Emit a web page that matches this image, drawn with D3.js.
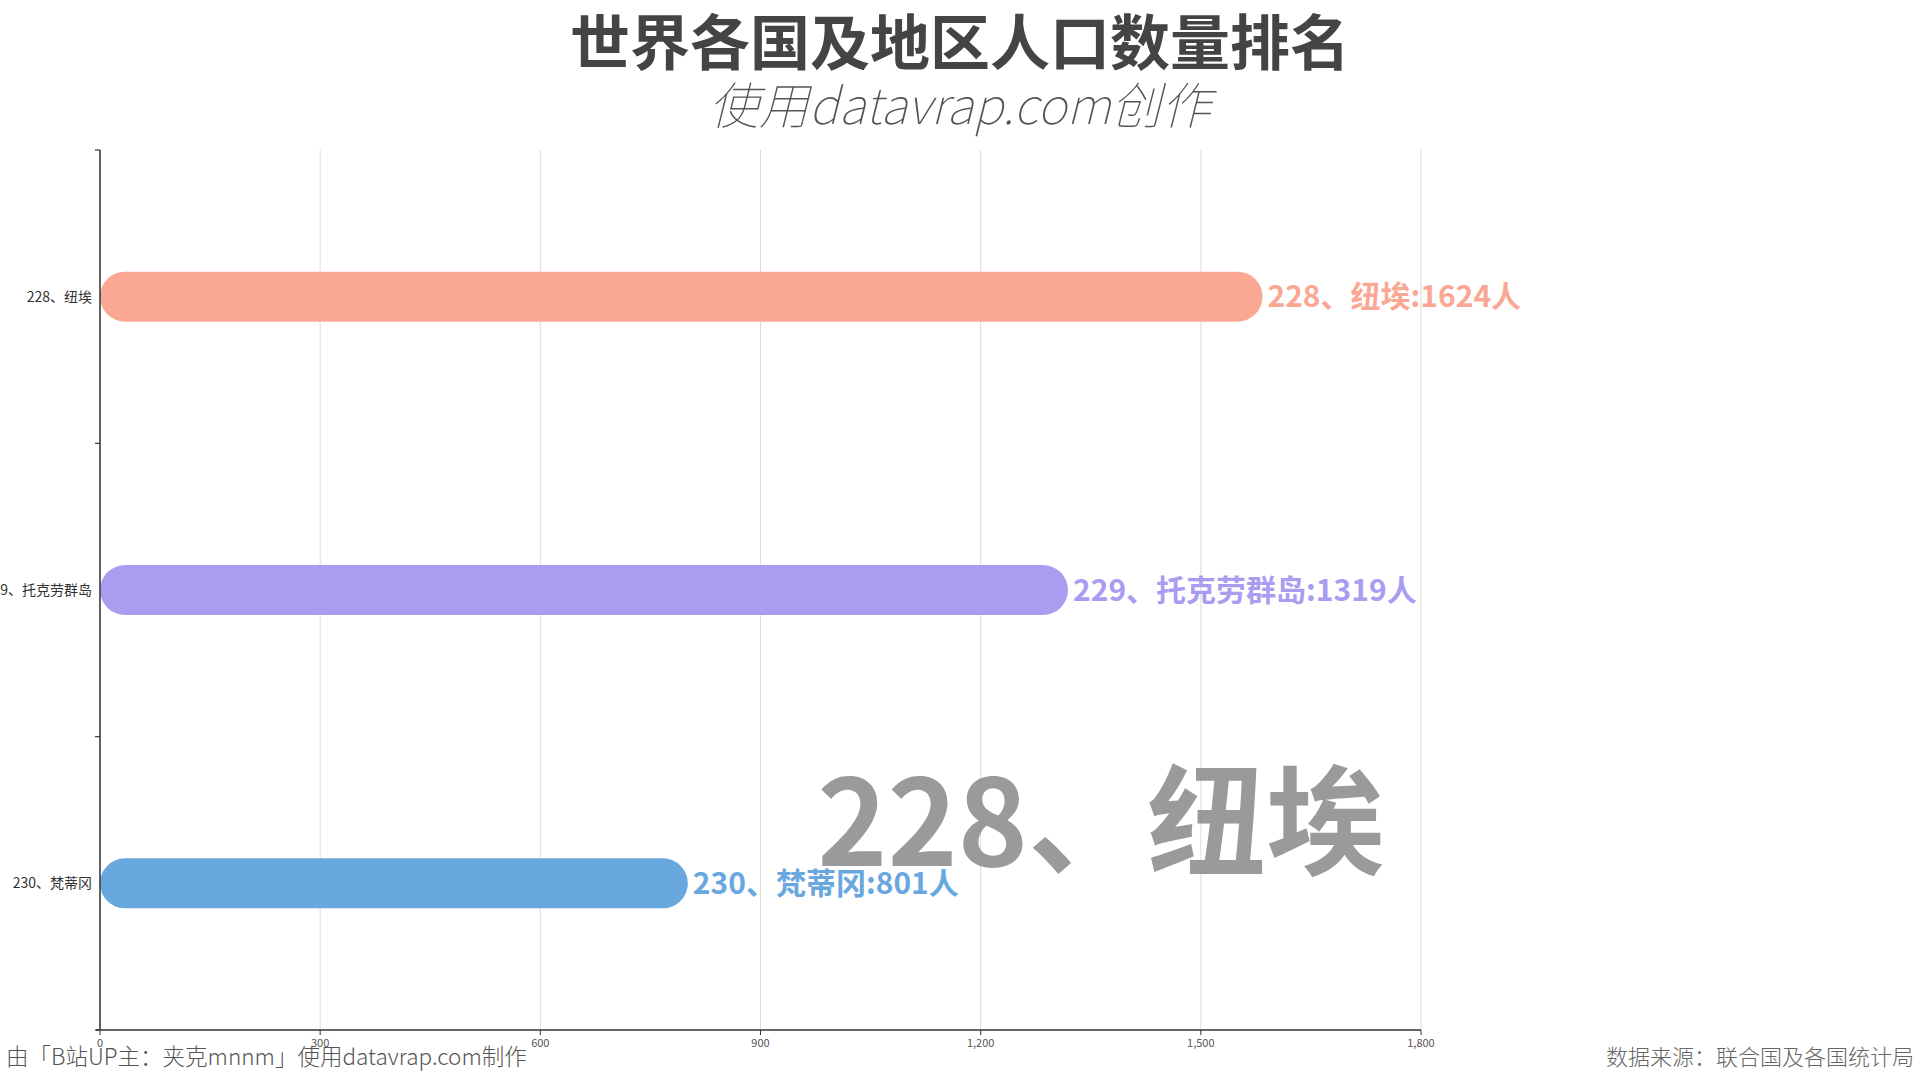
<!DOCTYPE html>
<html>
<head>
<meta charset="utf-8">
<script src="https://cdn.jsdelivr.net/npm/d3@7"></script>
<style>
  html, body { margin: 0; padding: 0; background: #fff; }
  svg { display: block; font-family: "Noto Sans CJK SC", "Noto Sans", sans-serif; }
</style>
</head>
<body>
<svg id="chart" width="1920" height="1080"></svg>
<script>
// ---- data ----
const categories = ["228、纽埃", "229、托克劳群岛", "230、梵蒂冈"];
const populations = [1624, 1319, 801];          // labelled values
const barLengths = [1584, 1319, 801];           // bar length drawn in this animation frame
const barColors = ["#FAA893", "#A99CF1", "#69A8DF"];
const xTicks = [0, 300, 600, 900, 1200, 1500, 1800];
const titleText = "世界各国及地区人口数量排名";
const subtitleText = "使用datavrap.com创作";
const currentLabel = "228、纽埃";
const footerLeft = "由「B站UP主：夹克mnnm」使用datavrap.com制作";
const footerRight = "数据来源：联合国及各国统计局";

// ---- layout ----
const svg = d3.select("#chart");
const m = { left: 100, top: 150, bottom: 1030 };
const x = d3.scaleLinear().domain([0, 1800]).range([m.left, 1421]);
const y = d3.scaleBand().domain(categories).range([m.top, m.bottom]).padding(0);
const barH = 50;

// grid lines
svg.append("g").selectAll("line").data(xTicks).join("line")
  .attr("x1", d => x(d)).attr("x2", d => x(d))
  .attr("y1", m.top).attr("y2", m.bottom)
  .attr("stroke", "#dcdcdc").attr("stroke-width", 1);

// big watermark label
svg.append("text")
  .attr("x", 1385).attr("y", 866)
  .attr("text-anchor", "end")
  .attr("font-size", 119).attr("font-weight", 700)
  .attr("fill", "#8c8c8c").attr("fill-opacity", 0.88)
  .text(currentLabel);

// bars
const rows = categories.map((c, i) => ({ c, v: populations[i], len: barLengths[i], color: barColors[i] }));
svg.append("g").selectAll("rect").data(rows).join("rect")
  .attr("x", x(0))
  .attr("y", d => y(d.c) + y.bandwidth() / 2 - barH / 2)
  .attr("width", d => x(d.len) - x(0))
  .attr("height", barH)
  .attr("rx", barH / 2).attr("ry", barH / 2)
  .attr("fill", d => d.color);

// value labels
svg.append("g").selectAll("text").data(rows).join("text")
  .attr("x", d => x(d.len) + 5)
  .attr("y", d => y(d.c) + y.bandwidth() / 2)
  .attr("dy", "0.35em")
  .attr("font-size", 30).attr("font-weight", 700)
  .attr("fill", d => d.color)
  .text(d => `${d.c}:${d.v}人`);

// y axis
const yAxis = svg.append("g");
yAxis.append("line")
  .attr("x1", m.left).attr("x2", m.left).attr("y1", m.top).attr("y2", m.bottom)
  .attr("stroke", "#333").attr("stroke-width", 1.5);
const yBounds = categories.map(c => y(c)).concat([m.bottom]);
yAxis.selectAll("line.tick").data(yBounds).join("line").attr("class", "tick")
  .attr("x1", m.left - 5).attr("x2", m.left).attr("y1", d => d).attr("y2", d => d)
  .attr("stroke", "#333").attr("stroke-width", 1.2);
yAxis.selectAll("text").data(categories).join("text")
  .attr("x", m.left - 8)
  .attr("y", d => y(d) + y.bandwidth() / 2)
  .attr("dy", "0.35em")
  .attr("text-anchor", "end")
  .attr("font-size", 14).attr("fill", "#333")
  .text(d => d);

// x axis
const xAxis = svg.append("g");
xAxis.append("line")
  .attr("x1", m.left - 4).attr("x2", x(1800)).attr("y1", m.bottom).attr("y2", m.bottom)
  .attr("stroke", "#333").attr("stroke-width", 1.5);
xAxis.selectAll("line.tick").data(xTicks).join("line").attr("class", "tick")
  .attr("x1", d => x(d)).attr("x2", d => x(d))
  .attr("y1", m.bottom).attr("y2", m.bottom + 5)
  .attr("stroke", "#333").attr("stroke-width", 1);
xAxis.selectAll("text").data(xTicks).join("text")
  .attr("x", d => x(d)).attr("y", m.bottom + 17)
  .attr("text-anchor", "middle")
  .attr("font-size", 11).attr("fill", "#555")
  .text(d => d3.format(",")(d));

// titles
svg.append("text")
  .attr("x", 960).attr("y", 44).attr("dy", "0.35em")
  .attr("text-anchor", "middle")
  .attr("font-size", 60).attr("font-weight", 700).attr("fill", "#444")
  .text(titleText);
svg.append("text")
  .attr("x", 960).attr("y", 106).attr("dy", "0.35em")
  .attr("text-anchor", "middle")
  .attr("font-size", 50).attr("font-weight", 100).attr("font-style", "italic")
  .attr("fill", "#555")
  .text(subtitleText);

// footers
svg.append("text")
  .attr("x", 6).attr("y", 1057).attr("dy", "0.35em")
  .attr("font-size", 22.5).attr("fill", "#555").attr("font-weight", 300)
  .text(footerLeft);
svg.append("text")
  .attr("x", 1914).attr("y", 1057).attr("dy", "0.35em")
  .attr("text-anchor", "end")
  .attr("font-size", 22).attr("fill", "#666").attr("font-weight", 300)
  .text(footerRight);
</script>
</body>
</html>
